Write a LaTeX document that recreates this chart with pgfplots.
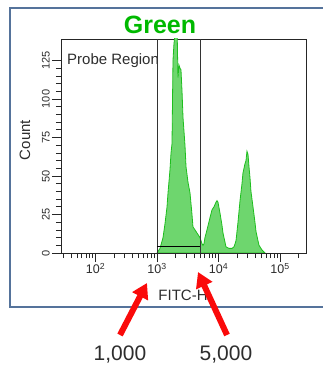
\documentclass[border=0pt]{standalone}
\usepackage{pgfplots}
\pgfplotsset{compat=1.18}
\usepackage{fontspec}
\setmainfont{Liberation Sans}
\setsansfont{Liberation Sans}
\usetikzlibrary{arrows.meta}
\definecolor{histfill}{RGB}{110,214,110}
\definecolor{histline}{RGB}{30,190,30}
\definecolor{titlegreen}{RGB}{0,185,0}
\definecolor{framecol}{RGB}{85,115,155}
\definecolor{txt}{RGB}{45,45,45}
\definecolor{arrowred}{RGB}{250,10,10}
\begin{document}
\begin{tikzpicture}[x=1pt,y=1pt]
\useasboundingbox (0,0) rectangle (323,369);
\draw[framecol,line width=1.2pt] (324,361) -- (10,361) -- (10,62) -- (324,62);
\begin{axis}[
  at={(61pt,116pt)}, anchor=south west,
  scale only axis, width=245pt, height=214pt,
  xmin=1.439, xmax=5.423, ymin=0, ymax=139,
  /pgf/number format/assume math mode=true,
  axis line style={black!85,line width=0.9pt},
  xtick={2,3,4,5},
  xticklabels={10\textsuperscript{2},10\textsuperscript{3},10\textsuperscript{4},10\textsuperscript{5}},
  minor xtick={1.477,1.602,1.699,1.778,1.845,1.903,1.954,
               2.301,2.477,2.602,2.699,2.778,2.845,2.903,2.954,
               3.301,3.477,3.602,3.699,3.778,3.845,3.903,3.954,
               4.301,4.477,4.602,4.699,4.778,4.845,4.903,4.954,5.301},
  ytick={0,25,50,75,100,125},
  minor y tick num=4,
  tick align=outside, xtick pos=bottom, ytick pos=left,
  major tick length=9pt, minor tick length=5pt,
  every tick/.style={black!85,line width=0.8pt},
  xticklabel style={font=\fontsize{12.5}{14}\selectfont, text=txt, inner sep=1pt},
  yticklabel style={font=\fontsize{11}{13}\selectfont, text=txt, rotate=90, anchor=south, inner sep=2pt},
  clip=true,
]
\addplot[draw=histline, line width=0.8pt, fill=histfill] coordinates {
(3.000,0) (3.016,1) (3.049,3) (3.098,10) (3.130,19) (3.163,30) (3.179,39)
(3.211,54) (3.228,65) (3.244,71) (3.260,125) (3.276,136) (3.293,142)
(3.309,150) (3.325,150) (3.341,114) (3.358,122) (3.374,120) (3.390,119)
(3.407,105) (3.423,88) (3.455,70) (3.472,56) (3.504,46) (3.537,39)
(3.569,25) (3.585,17) (3.618,15) (3.634,14) (3.667,12) (3.699,10)
(3.732,6) (3.748,5) (3.764,6) (3.780,10) (3.813,15) (3.862,23)
(3.894,28) (3.927,30) (3.959,33) (3.976,34) (3.992,33) (4.024,26)
(4.057,18) (4.073,13) (4.106,7) (4.122,4) (4.171,3) (4.220,3)
(4.252,4) (4.285,8) (4.317,20) (4.350,34) (4.382,45) (4.398,52)
(4.431,58) (4.447,60) (4.463,66) (4.480,64) (4.496,56) (4.512,49)
(4.528,40) (4.561,30) (4.593,20) (4.610,14) (4.642,8) (4.659,5)
(4.707,2) (4.756,0)
} \closedcycle;
\addplot[black!80, line width=0.9pt] coordinates {(3,0) (3,139)};
\addplot[black!80, line width=0.9pt] coordinates {(3.699,0) (3.699,139)};
\addplot[black, line width=1pt] coordinates {(3,4) (3.699,4)};
\end{axis}
\begin{scope}
\clip (61,116) rectangle (156.5,330);
\node[anchor=base west, inner sep=0pt, text=txt, font=\fontsize{15}{17}\selectfont] at (67,304) {Probe Region};
\end{scope}
\node[font=\fontsize{25}{28}\selectfont\bfseries, text=titlegreen] at (160,344) {Green};
\node[rotate=90, font=\fontsize{15}{18}\selectfont, text=txt] at (25,229) {Count};
\node[font=\fontsize{15}{18}\selectfont, text=txt] at (183,74) {FITC-H};
\draw[arrowred, line width=6pt, -{Triangle[width=17pt,length=15pt]}] (120,34) -- (147,86);
\draw[arrowred, line width=6pt, -{Triangle[width=17pt,length=15pt]}] (227,34) -- (198,97);
\node[font=\fontsize{21}{24}\selectfont, text=txt] at (120,14) {1,000};
\node[font=\fontsize{21}{24}\selectfont, text=txt] at (226,14) {5,000};
\end{tikzpicture}
\end{document}
